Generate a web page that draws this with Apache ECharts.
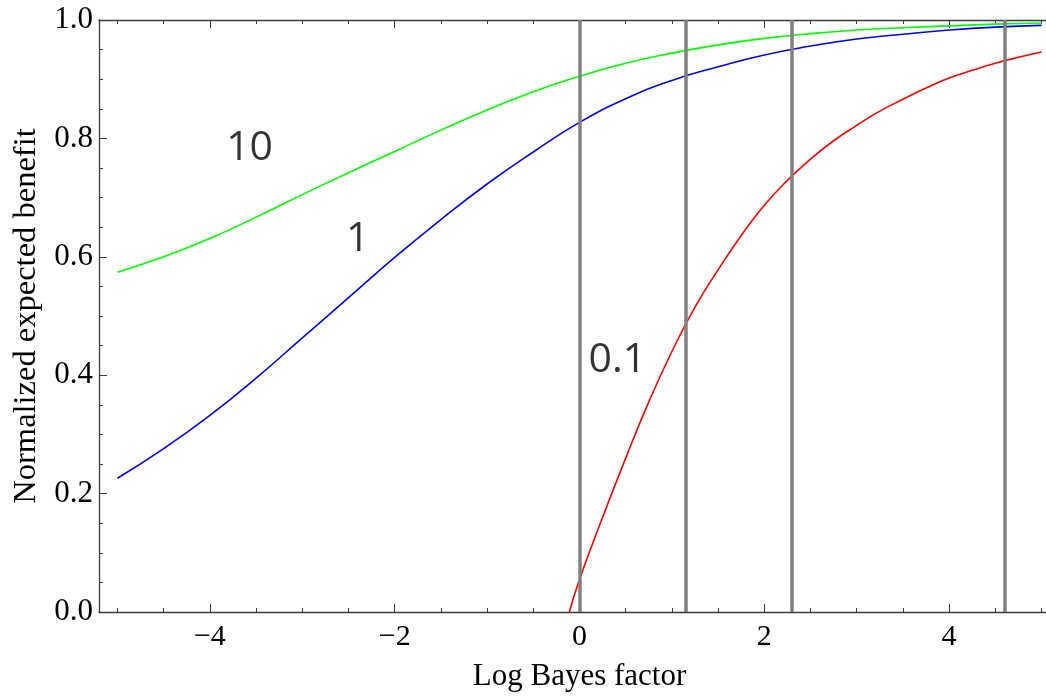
<!DOCTYPE html>
<html>
<head>
<meta charset="utf-8">
<script src="https://cdn.jsdelivr.net/npm/echarts@6/dist/echarts.min.js"></script>
<style>
  html, body { margin: 0; padding: 0; background: #fff; }
  #chart { width: 1046px; height: 696px; }
</style>
</head>
<body>
<div id="chart"></div>
<script>
// log Bayes factor grid used for the prior-odds 10 and 1 curves
const xs = [-5, -4.5, -4, -3.5, -3, -2.5, -2, -1.5, -1, -0.5, 0, 0.5, 1, 1.5, 2, 2.5, 3, 3.5, 4, 4.5, 5];
const odds10 = [0.574, 0.600, 0.631, 0.667, 0.705, 0.742, 0.778, 0.814, 0.848, 0.879, 0.905, 0.927, 0.944, 0.958, 0.969, 0.977, 0.983, 0.987, 0.990, 0.993, 0.995];
const odds1 = [0.226, 0.276, 0.332, 0.395, 0.463, 0.531, 0.599, 0.663, 0.723, 0.777, 0.827, 0.867, 0.898, 0.921, 0.941, 0.956, 0.968, 0.976, 0.983, 0.988, 0.991];
// the 0.1 curve only shows above zero
const xsLow = [-0.11, 0, 0.25, 0.5, 0.75, 1, 1.25, 1.5, 1.75, 2, 2.25, 2.5, 2.75, 3, 3.25, 3.5, 3.75, 4, 4.25, 4.5, 4.75, 5];
const odds01 = [0, 0.055, 0.16, 0.26, 0.355, 0.44, 0.515, 0.578, 0.636, 0.687, 0.729, 0.765, 0.796, 0.822, 0.846, 0.866, 0.885, 0.902, 0.915, 0.927, 0.937, 0.946];

// vertical reference lines (Jeffreys-style thresholds)
const thresholds = [0, 1.15, 2.30, 4.60];

// curve labels: [x, y, text]
const curveLabels = [
    [-3.57, 0.784, '10'],
    [-2.40, 0.630, '1'],
    [0.41, 0.425, '0.1']
];

const xMajor = [-4, -2, 0, 2, 4];
const xMinor = [-5, -4.5, -4, -3.5, -3, -2.5, -2, -1.5, -1, -0.5, 0, 0.5, 1, 1.5, 2, 2.5, 3, 3.5, 4, 4.5, 5];

const serif = 'Liberation Serif';
const frame = '#3a3a3a';

const zip = (a, b) => a.map((v, i) => [v, b[i]]);

const chart = echarts.init(document.getElementById('chart'));

const xBase = {
    type: 'value',
    min: -5.2,
    max: 5.2,
    splitLine: {show: false},
};

const curve = (data, color) => ({
    type: 'line',
    data: data,
    smooth: true,
    symbol: 'none',
    lineStyle: {color: color, width: 1.6}
});

const option = {
    animation: false,
    grid: {left: 99, right: -14, top: 20, bottom: 84, outerBoundsMode: 'none', containLabel: false},
    xAxis: [
        Object.assign({}, xBase, {
            position: 'bottom',
            name: 'Log Bayes factor',
            nameLocation: 'middle',
            nameGap: 49,
            nameTextStyle: {fontFamily: serif, fontSize: 31, color: '#000'},
            axisLine: {onZero: false, lineStyle: {color: frame, width: 1.3}},
            axisTick: {inside: true, length: 8, customValues: xMajor, lineStyle: {color: frame}},
            axisLabel: {
                customValues: xMajor,
                fontFamily: serif, fontSize: 30, color: '#000', margin: 10,
                formatter: v => v < 0 ? '\u2212' + Math.abs(v) : String(v)
            }
        }),
        Object.assign({}, xBase, {
            position: 'bottom',
            axisLine: {show: false, onZero: false},
            axisTick: {inside: true, length: 4, customValues: xMinor, lineStyle: {color: frame}},
            axisLabel: {show: false}
        }),
        Object.assign({}, xBase, {
            position: 'top',
            axisLine: {onZero: false, lineStyle: {color: frame, width: 1.3}},
            axisTick: {show: true, inside: true, length: 8, customValues: xMajor, lineStyle: {color: frame}},
            axisLabel: {show: false}
        }),
        Object.assign({}, xBase, {
            position: 'top',
            axisLine: {show: false, onZero: false},
            axisTick: {show: true, inside: true, length: 4, customValues: xMinor, lineStyle: {color: frame}},
            axisLabel: {show: false}
        })
    ],
    yAxis: {
        type: 'value',
        min: 0,
        max: 1,
        interval: 0.2,
        name: 'Normalized expected benefit',
        nameLocation: 'middle',
        nameGap: 54,
        nameTextStyle: {fontFamily: serif, fontSize: 32.5, color: '#000'},
        axisLine: {show: true, onZero: false, lineStyle: {color: frame, width: 1.3}},
        axisTick: {show: true, inside: true, length: 8, lineStyle: {color: frame}},
        minorTick: {show: true, splitNumber: 4, length: 4, lineStyle: {color: frame}},
        splitLine: {show: false},
        axisLabel: {
            fontFamily: serif, fontSize: 31, color: '#000', margin: 6,
            formatter: v => v.toFixed(1)
        }
    },
    series: [
        curve(zip(xs, odds10), '#00ff00'),
        curve(zip(xs, odds1), '#0000ff'),
        curve(zip(xsLow, odds01), '#ff0000'),
        {
            type: 'line',
            data: [],
            z: 5,
            markLine: {
                silent: true,
                symbol: ['none', 'none'],
                label: {show: false},
                lineStyle: {color: '#808080', width: 3.5, type: 'solid'},
                data: thresholds.map(x => ({xAxis: x}))
            }
        },
        {
            type: 'scatter',
            symbolSize: 0,
            z: 6,
            data: curveLabels.map(d => ({value: [d[0], d[1]], name: d[2]})),
            label: {
                show: true,
                position: 'inside',
                formatter: p => p.name,
                fontFamily: 'Open Sans',
                fontSize: 41,
                color: '#000'
            }
        }
    ]
};

chart.setOption(option);

window.addEventListener('resize', () => chart.resize());
</script>
</body>
</html>
